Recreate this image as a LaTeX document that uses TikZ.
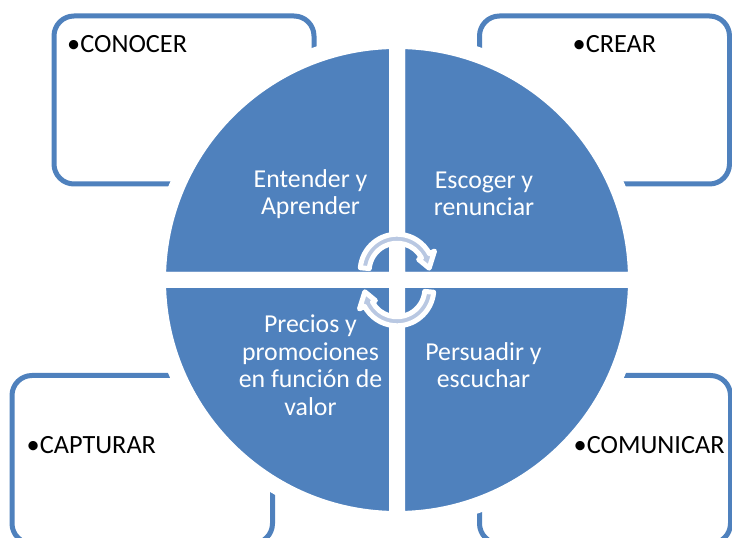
\documentclass[tikz,border=0pt]{standalone}
\usepackage{fontspec}
\setmainfont{Carlito}
\definecolor{quadblue}{HTML}{4F81BD}
\definecolor{arrowfill}{HTML}{B9C8E2}

% the two curved arrows in the middle of the wheel
\tikzset{
  cyclearrow/.pic={
    \draw[white, line width=5pt, fill=arrowfill, line join=round]
      (175:36.8) arc[start angle=175, end angle=28, radius=36.8]
      -- (28:42.5) -- (5:32.3) -- (28:24.5) -- (28:27.8)
      arc[start angle=28, end angle=175, radius=27.8] -- cycle;
  }
}

\begin{document}
\begin{tikzpicture}[x=1pt, y=1pt, line join=round,
  cornerbox/.style={draw=quadblue, line width=5pt, rounded corners=20pt, fill=white},
  quadrant/.style={fill=quadblue, draw=white, line width=16pt},
  boxtext/.style={anchor=base west, inner sep=0pt, font=\fontsize{26.3}{28}\selectfont},
  quadtext/.style={align=center, text=white, inner sep=0pt, font=\fontsize{25.8}{27.5}\selectfont}]
\useasboundingbox (0,0) rectangle (732,538);
\clip (0,0) rectangle (732,538);

% boxes in the corners
\draw[cornerbox] (54,522) rectangle (314,354);
\draw[cornerbox] (479.5,522) rectangle (729.5,354);
\draw[cornerbox] (12,162.5) rectangle (272.5,-5.5);
\draw[cornerbox] (479.5,162.5) rectangle (730.5,-5.5);

% the wheel
\coordinate (centre) at (397,258);
\foreach \a in {0,90,180,270}
  \draw[quadrant] (centre) -- ++(\a:239) arc[start angle=\a, end angle=\a+90, radius=239] -- cycle;

\node[boxtext] (conocer) at (67,485.5) {•CONOCER};
\node[boxtext] (crear) at (572.5,485.5) {•CREAR};
\node[boxtext] (capturar) at (26.5,84.5) {•CAPTURAR};
\node[boxtext] (comunicar) at (573.5,84.5) {•COMUNICAR};

\node[quadtext] (entender) at (310.5,344) {Entender y\\Aprender};
\node[quadtext] (escoger) at (484,344) {Escoger y\\renunciar};
\node[quadtext] (precios) at (310.5,173) {Precios y\\promociones\\en función de\\valor};
\node[quadtext] (persuadir) at (483.5,173) {Persuadir y\\escuchar};

\pic at (397,267) {cyclearrow};
\pic[rotate=180] at (397,249) {cyclearrow};
\end{tikzpicture}
\end{document}
